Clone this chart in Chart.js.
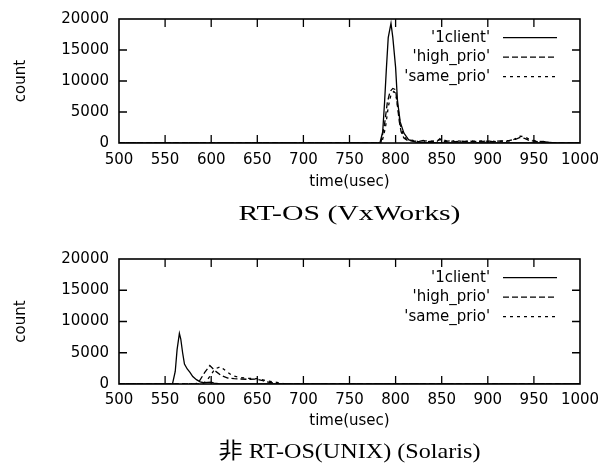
<!DOCTYPE html>
<html><head><meta charset="utf-8">
<script src="https://cdn.jsdelivr.net/npm/chart.js@4/dist/chart.umd.min.js"></script>
<style>
html,body{margin:0;padding:0;background:#fff;}
.box{position:absolute;left:0;width:611px;height:235px;}
</style></head><body>
<div class="box" style="top:0"><canvas id="c1" width="611" height="235"></canvas></div>
<div class="box" style="top:235px"><canvas id="c2" width="611" height="235"></canvas></div>
<script>
// ---- Axis definitions ----
const xTickValues = [500, 550, 600, 650, 700, 750, 800, 850, 900, 950, 1000];
const yTickValues = [0, 5000, 10000, 15000, 20000];
const seriesNames = ["'1client'", "'high_prio'", "'same_prio'"];
const chartTitles = ["RT-OS (VxWorks)", "非 RT-OS(UNIX) (Solaris)"];

// ---- RT-OS (VxWorks) ----
const rt_1client_time  = [500, 783, 786, 788, 790, 792, 795, 797, 800, 802, 805, 809, 814, 818, 822, 830, 840, 850, 1000];
const rt_1client_count = [0,   0,   1800, 6500, 12000, 17000, 19300, 17000, 12200, 6900, 3400, 1600, 530, 300, 150, 80, 40, 0, 0];

const rt_high_time  = [500, 784, 788, 791, 794, 797, 800, 802, 804, 806, 809, 813, 815, 820, 825, 830, 835, 840, 845, 848, 851, 855, 860, 865, 870, 875, 880, 885, 890, 895, 900, 905, 910, 915, 920, 925, 930, 935, 940, 945, 950, 955, 960, 965, 970, 975, 1000];
const rt_high_count = [0,   0,   3000, 6500, 8300, 8800, 8600, 6000, 3500, 1800, 800, 400, 500, 350, 250, 400, 200, 300, 250, 700, 300, 250, 400, 200, 300, 250, 350, 200, 300, 250, 350, 200, 300, 350, 250, 450, 600, 900, 750, 400, 300, 200, 250, 100, 50, 0, 0];

const rt_same_time  = [500, 785, 789, 792, 795, 798, 800, 803, 805, 808, 811, 815, 820, 825, 830, 835, 840, 845, 850, 855, 860, 865, 870, 875, 880, 885, 890, 895, 900, 905, 910, 915, 920, 925, 930, 935, 940, 945, 950, 955, 960, 965, 970, 978, 1000];
const rt_same_count = [0,   0,   2500, 5800, 7800, 8300, 8000, 5200, 3000, 1500, 700, 300, 500, 200, 300, 350, 250, 400, 600, 350, 250, 400, 300, 200, 350, 300, 250, 350, 250, 300, 200, 300, 400, 300, 700, 1100, 1000, 600, 400, 300, 200, 150, 50, 0, 0];

// ---- non RT-OS (Solaris) ----
const sol_1client_time  = [500, 558, 561, 563, 565.5, 567, 569, 571, 574, 577, 580, 584, 588, 592, 596, 600, 603, 608, 615, 1000];
const sol_1client_count = [0,   0,   2000, 5500, 8100, 7200, 5000, 3200, 2400, 1850, 1200, 700, 350, 200, 250, 300, 150, 50, 0, 0];

const sol_high_time  = [500, 583, 587.5, 593, 598.5, 604, 611, 618, 625, 632, 640, 649, 656, 663, 670, 676, 1000];
const sol_high_count = [0,   0,   530, 1860, 2950, 2130, 1330, 960, 850, 800, 750, 800, 530, 260, 100, 0, 0];

const sol_same_time  = [500, 590, 595, 600, 604, 610, 616.5, 623, 631, 640, 650, 660, 666, 671, 678, 685, 1000];
const sol_same_count = [0,   0,   500, 1500, 2400, 2770, 2020, 1330, 1060, 900, 850, 530, 350, 260, 100, 0, 0];

const SANS = '"DejaVu Sans", "Liberation Sans", sans-serif';
const SERIF = '"Liberation Serif", "DejaVu Serif", "Noto Sans CJK JP", serif';
const dashes = [[], [6, 3], [3, 4]];

const framePlugin = {
  id: 'frame',
  afterDatasetsDraw(chart) {
    const {ctx, chartArea: a, scales} = chart;
    ctx.save();
    ctx.strokeStyle = '#000';
    ctx.lineWidth = 1.6;
    ctx.setLineDash([]);
    ctx.strokeRect(a.left, a.top, a.right - a.left, a.bottom - a.top);
    ctx.lineWidth = 1.3;
    const L = 8;
    ctx.beginPath();
    xTickValues.forEach(v => {
      const px = scales.x.getPixelForValue(v);
      if (px <= a.left + 1 || px >= a.right - 1) return;
      ctx.moveTo(px, a.bottom); ctx.lineTo(px, a.bottom - L);
      ctx.moveTo(px, a.top); ctx.lineTo(px, a.top + L);
    });
    yTickValues.forEach(v => {
      const py = scales.y.getPixelForValue(v);
      if (py <= a.top + 1 || py >= a.bottom - 1) return;
      ctx.moveTo(a.left, py); ctx.lineTo(a.left + L, py);
      ctx.moveTo(a.right, py); ctx.lineTo(a.right - L, py);
    });
    ctx.stroke();
    ctx.restore();
  }
};

const legendPlugin = {
  id: 'gpLegend',
  afterDatasetsDraw(chart) {
    const {ctx, chartArea: a} = chart;
    ctx.save();
    ctx.font = '15px ' + SANS;
    ctx.fillStyle = '#000';
    ctx.textAlign = 'right';
    ctx.textBaseline = 'middle';
    chart.data.datasets.forEach((ds, i) => {
      const y = a.top + 18.7 + i * 19.5;
      ctx.fillText(ds.label, 490, y);
      ctx.strokeStyle = '#000';
      ctx.lineWidth = 1.3;
      ctx.setLineDash(ds.borderDash || []);
      ctx.beginPath();
      ctx.moveTo(503, y); ctx.lineTo(557, y);
      ctx.stroke();
    });
    ctx.restore();
  }
};

// caption under each plot, centred on the plot area
const captionPlugin = {
  id: 'caption',
  afterDraw(chart, args, opts) {
    const {ctx, chartArea: a} = chart;
    ctx.save();
    ctx.font = '22px ' + SERIF;
    ctx.fillStyle = '#000';
    ctx.textAlign = 'center';
    ctx.textBaseline = 'middle';
    const w = ctx.measureText(opts.text).width;
    ctx.translate((a.left + a.right) / 2, opts.y);
    ctx.scale(opts.width / w, 1);
    ctx.fillText(opts.text, 0, 0);
    ctx.restore();
  }
};

function makeChart(id, title, series, p) {
  const datasets = series.map((s, i) => ({
    label: seriesNames[i],
    data: s.t.map((t, k) => ({x: t, y: s.c[k]})),
    borderColor: '#000',
    borderWidth: 1.3,
    borderDash: dashes[i],
    pointRadius: 0,
    fill: false,
    tension: 0
  }));
  const tickFont = {family: SANS, size: 15};
  return new Chart(document.getElementById(id), {
    type: 'line',
    data: {datasets},
    options: {
      responsive: false,
      animation: false,
      devicePixelRatio: 1,
      layout: {padding: {top: p.padTop, right: 31, left: 0, bottom: p.capH}},
      plugins: {
        legend: {display: false},
        tooltip: {enabled: false},
        title: {display: false},
        caption: {text: title, y: p.capY, width: p.capW}
      },
      scales: {
        x: {
          type: 'linear', min: 500, max: 1000,
          afterBuildTicks(s) { s.ticks = xTickValues.map(v => ({value: v})); },
          ticks: {color: '#000', font: tickFont, padding: p.tickPad, maxRotation: 0, autoSkip: false,
                  callback: v => String(v)},
          grid: {display: false, drawTicks: false},
          border: {display: false},
          title: {display: true, text: 'time(usec)', color: '#000', font: tickFont, padding: {top: 0, bottom: p.xTitlePad}},
          afterFit(s) { s.height = p.xh; }
        },
        y: {
          min: 0, max: 20000,
          afterBuildTicks(s) { s.ticks = yTickValues.map(v => ({value: v})); },
          ticks: {color: '#000', font: tickFont, padding: 10, callback: v => String(v)},
          grid: {display: false, drawTicks: false},
          border: {display: false},
          title: {display: true, text: 'count', color: '#000', font: tickFont, padding: {top: 12, bottom: 0}},
          afterFit(s) { s.width = 119; }
        }
      }
    },
    plugins: [framePlugin, legendPlugin, captionPlugin]
  });
}

makeChart('c1', chartTitles[0], [
  {t: rt_1client_time, c: rt_1client_count},
  {t: rt_high_time, c: rt_high_count},
  {t: rt_same_time, c: rt_same_count}
], {padTop: 18, xh: 58, capH: 34, capY: 214, capW: 222, tickPad: 8, xTitlePad: 10});

makeChart('c2', chartTitles[1], [
  {t: sol_1client_time, c: sol_1client_count},
  {t: sol_high_time, c: sol_high_count},
  {t: sol_same_time, c: sol_same_count}
], {padTop: 24, xh: 54, capH: 32, capY: 217, capW: 262, tickPad: 7, xTitlePad: 8});
</script>
</body></html>
